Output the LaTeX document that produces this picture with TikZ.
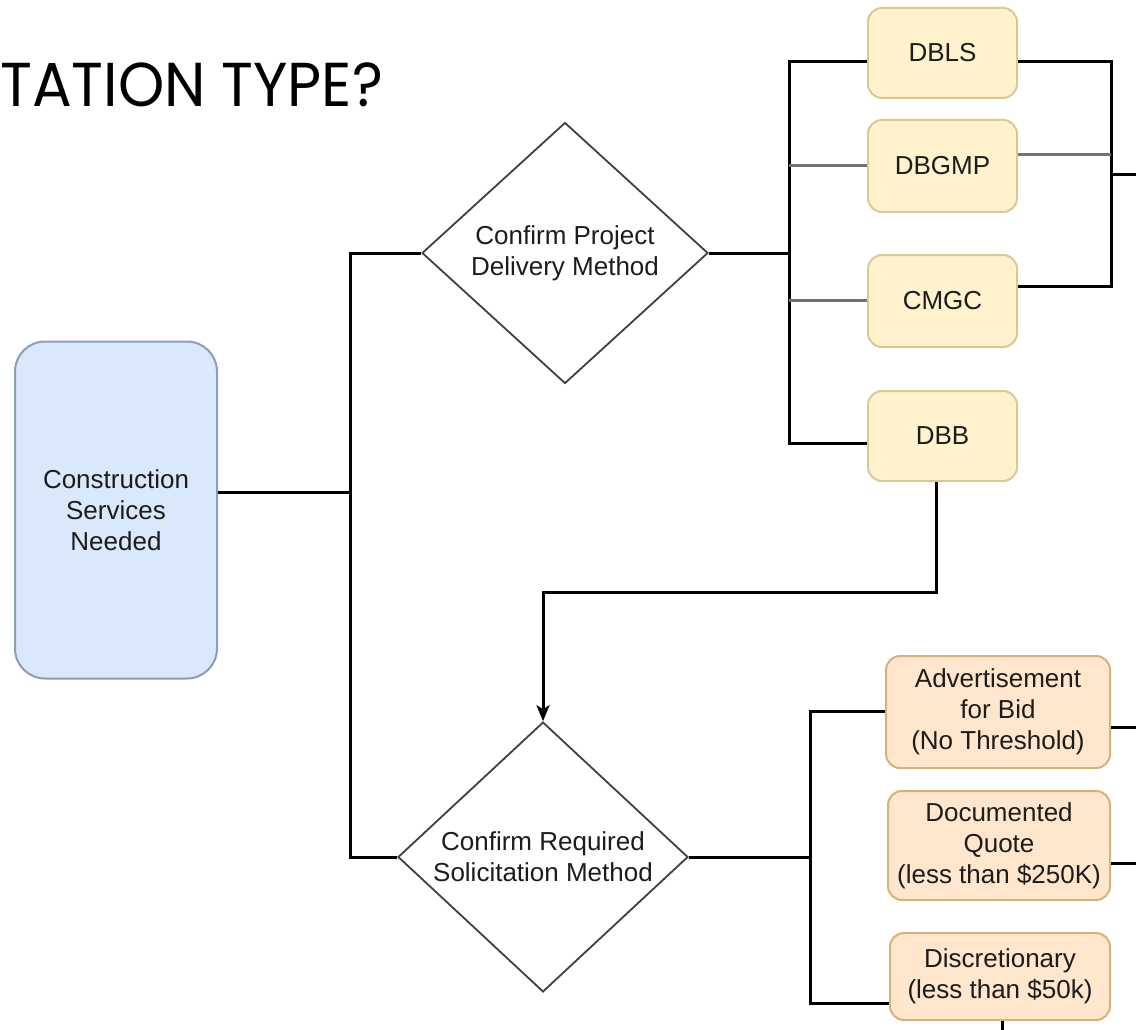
\documentclass[tikz,border=0pt]{standalone}
\usepackage{fontspec}
\setmainfont{Liberation Sans}
\newfontfamily\titlefont{Poppins}
\usetikzlibrary{shapes.geometric,arrows.meta}

\definecolor{ylwfill}{HTML}{FFF2CC}
\definecolor{ylwline}{HTML}{D9C894}
\definecolor{orgfill}{HTML}{FFE6CC}
\definecolor{orgline}{HTML}{D8B07A}
\definecolor{bluefill}{HTML}{DAE8FC}
\definecolor{blueline}{HTML}{8E9DB6}
\definecolor{inkcol}{HTML}{1C1C1C}

\tikzset{
  txt/.style={font=\fontsize{26}{31}\selectfont, text=inkcol, align=center, inner sep=0pt},
  ylwbox/.style={txt, rectangle, rounded corners=14pt, draw=ylwline, fill=ylwfill, line width=2pt},
  orgbox/.style={txt, rectangle, rounded corners=14pt, draw=orgline, fill=orgfill, line width=2pt},
  bluebox/.style={txt, rectangle, rounded corners=30pt, draw=blueline, fill=bluefill, line width=2pt},
  decision/.style={txt, diamond, draw=black!75, fill=white, line width=1.8pt},
  wire/.style={line width=3pt, black},
  greywire/.style={line width=3pt, black!55},
}

\begin{document}
\begin{tikzpicture}[x=1pt, y=-1pt]
\useasboundingbox (0,0) rectangle (1136,1030);
\fill[white] (0,0) rectangle (1136,1030);

% heading
\node[anchor=base west, inner sep=0pt, font=\titlefont\fontsize{62}{62}\selectfont, xscale=0.95] (title) at (0,107) {TATION TYPE?};

% start
\node[bluebox, minimum width=202pt, minimum height=337pt] (cs) at (116,510) {Construction\\Services\\Needed};

% decisions
\node[decision, minimum width=286pt, minimum height=261pt] (d1) at (565,253) {Confirm Project\\Delivery Method};
\node[decision, minimum width=290pt, minimum height=231pt] (d2) at (543,857) {Confirm Required\\Solicitation Method};

% delivery methods
\node[ylwbox, minimum width=149pt, minimum height=90pt] (dbls)  at (942.5,53)  {DBLS};
\node[ylwbox, minimum width=149pt, minimum height=92pt] (dbgmp) at (942.5,166) {DBGMP};
\node[ylwbox, minimum width=149pt, minimum height=92pt] (cmgc)  at (942.5,301) {CMGC};
\node[ylwbox, minimum width=149pt, minimum height=90pt] (dbb)   at (942.5,436) {DBB};

% solicitation methods
\node[orgbox, minimum width=224pt, minimum height=112pt] (adv)  at (998,712)   {Advertisement\\for Bid\\(No Threshold)};
\node[orgbox, minimum width=222pt, minimum height=109pt] (doc)  at (999,845.5) {Documented\\Quote\\(less than \$250K)};
\node[orgbox, minimum width=220pt, minimum height=87pt]  (disc) at (1000,976.5) {Discretionary\\(less than \$50k)};

% junction points
\coordinate (j1) at (350,492);
\coordinate (jl1) at (350,253);
\coordinate (jl2) at (350,857);
\coordinate (tj) at (789,253);
\coordinate (t1) at (789,62);
\coordinate (t2) at (789,166);
\coordinate (t3) at (789,300);
\coordinate (t4) at (789,443);
\coordinate (r1) at (1111,62);
\coordinate (r2) at (1111,155);
\coordinate (r3) at (1111,286);
\coordinate (rx) at (1111,175);
\coordinate (rout) at (1136,175);
\coordinate (k1) at (936,592);
\coordinate (bj) at (810,857);
\coordinate (b1) at (810,711);
\coordinate (b3) at (810,1003);
\coordinate (o1) at (1136,727);
\coordinate (o2) at (1136,863);
\coordinate (o3) at (1002,1030);

% start to both decisions
\draw[wire] (j1 -| cs.east) -- (j1);
\draw[wire] (d1.west) -- (jl1) -- (jl2) -- (d2.west);

% delivery method fan-out
\draw[wire] (d1.east) -- (tj);
\draw[wire] (t1 -| dbls.west) -- (t1) -- (t4) -- (t4 -| dbb.west);
\draw[greywire] (t2) -- (t2 -| dbgmp.west);
\draw[greywire] (t3) -- (t3 -| cmgc.west);

% delivery method merge
\draw[wire] (r1 -| dbls.east) -- (r1) -- (r3) -- (r3 -| cmgc.east);
\draw[greywire] (r2 -| dbgmp.east) -- (r2);
\draw[wire] (rx) -- (rout);

% DBB leads to the solicitation decision
\draw[wire, -{Stealth[length=16pt, width=13pt, inset=4pt]}] (k1 |- dbb.south) -- (k1) -| (d2.north);

% solicitation fan-out
\draw[wire] (d2.east) -- (bj);
\draw[wire] (b1 -| adv.west) -- (b1) -- (b3) -- (b3 -| disc.west);
\draw[wire] (o1 -| adv.east) -- (o1);
\draw[wire] (o2 -| doc.east) -- (o2);
\draw[wire] (o3 |- disc.south) -- (o3);
\end{tikzpicture}
\end{document}
